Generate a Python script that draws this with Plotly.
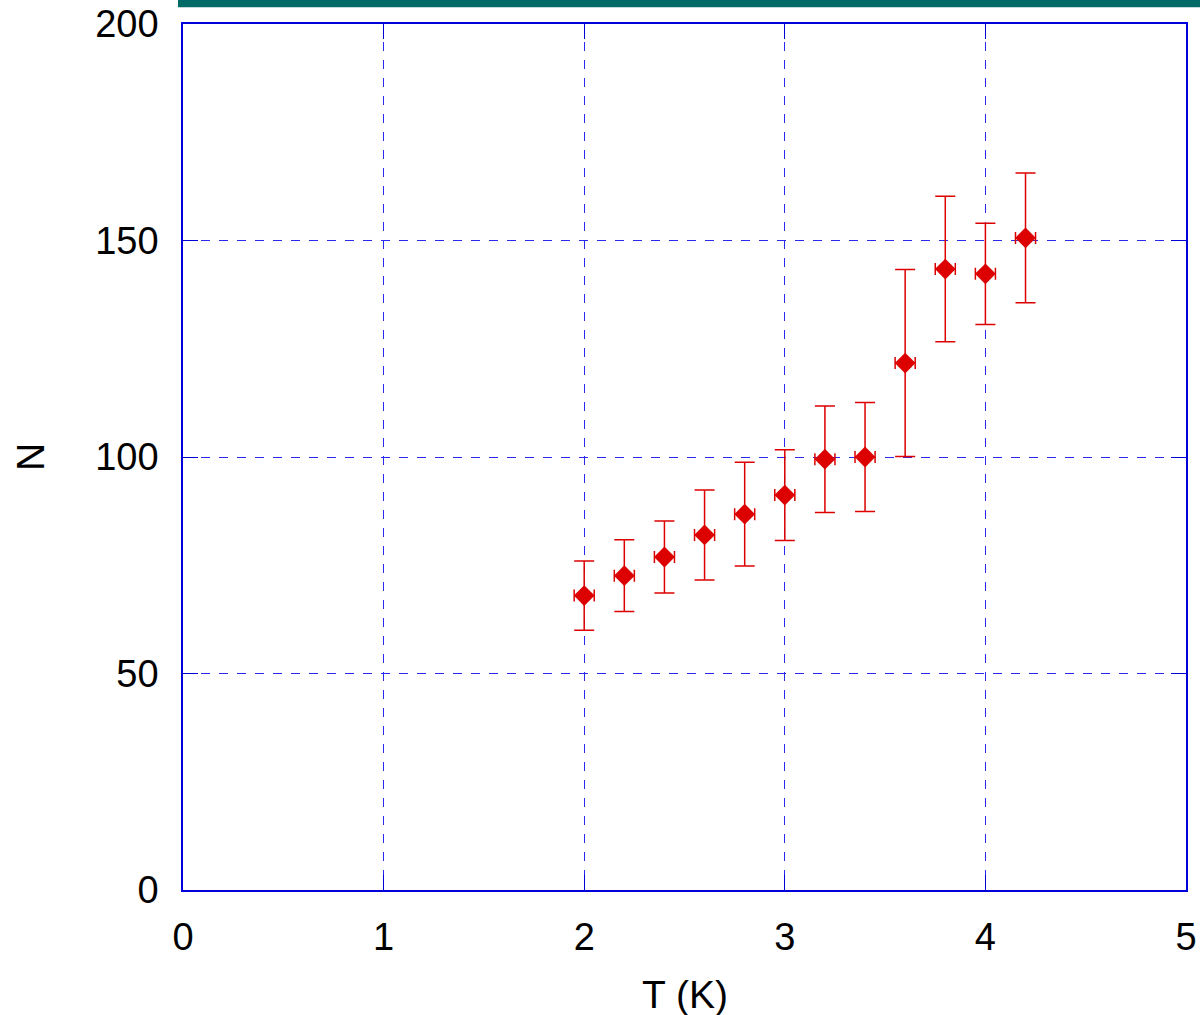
import plotly.graph_objects as go

T = [2.0, 2.2, 2.4, 2.6, 2.8, 3.0, 3.2, 3.4, 3.6, 3.8, 4.0, 4.2]
N = [68.0, 72.6, 76.9, 82.0, 86.8, 91.2, 99.5, 100.0, 121.7, 143.4, 142.3, 150.6]
N_err = [8.0, 8.3, 8.3, 10.4, 12.0, 10.5, 12.3, 12.6, 21.6, 16.8, 11.7, 15.0]
T_err = [0.05] * len(T)

x_ticks = [0, 1, 2, 3, 4, 5]
y_ticks = [0, 50, 100, 150, 200]

red = "#dd0000"
blue = "#0000dd"
grid = "#2a2aee"

fig = go.Figure()
fig.add_trace(go.Scatter(
    x=T, y=N, mode="markers",
    marker=dict(symbol="diamond", size=16, color=red),
    error_y=dict(type="data", array=N_err, visible=True, color=red, thickness=1.5, width=10),
    error_x=dict(type="data", array=T_err, visible=True, color=red, thickness=1.5, width=6),
    showlegend=False,
))

tick_font = dict(family="Liberation Sans, Arial, sans-serif", size=38, color="black")
title_font = dict(family="Liberation Sans, Arial, sans-serif", size=39, color="black")

fig.update_layout(
    width=1200, height=1015,
    margin=dict(l=183, r=14, t=24, b=125),
    paper_bgcolor="white", plot_bgcolor="white",
    font=tick_font,
    xaxis=dict(
        range=[0, 5], tickvals=x_ticks, ticktext=[str(v) for v in x_ticks],
        showgrid=True, gridcolor=grid, griddash="dash", gridwidth=1,
        zeroline=False, showline=True, linecolor=blue, linewidth=1.5, mirror="allticks",
        ticks="inside", ticklen=15, tickcolor=blue, tickwidth=1,
        ticklabelstandoff=13, tickfont=tick_font, automargin=False,
    ),
    yaxis=dict(
        range=[0, 200], tickvals=y_ticks, ticktext=[str(v) for v in y_ticks],
        showgrid=True, gridcolor=grid, griddash="dash", gridwidth=1,
        zeroline=False, showline=True, linecolor=blue, linewidth=1.5, mirror="allticks",
        ticks="inside", ticklen=15, tickcolor=blue, tickwidth=1,
        ticklabelstandoff=15, tickfont=tick_font, automargin=False,
    ),
    annotations=[
        dict(text="T (K)", xref="paper", yref="paper", x=0.5, y=-0.121,
             xanchor="center", yanchor="middle", showarrow=False, font=title_font),
        dict(text="N", xref="paper", yref="paper", x=-0.1525, y=0.5,
             xanchor="center", yanchor="middle", showarrow=False, textangle=-90, font=title_font),
    ],
    shapes=[
        dict(type="rect", xref="paper", yref="paper", x0=-0.005, x1=1.02, y0=1.0192, y1=1.03,
             fillcolor="#006b66", line=dict(width=0), layer="above"),
    ],
)

fig.write_html("out.html")
